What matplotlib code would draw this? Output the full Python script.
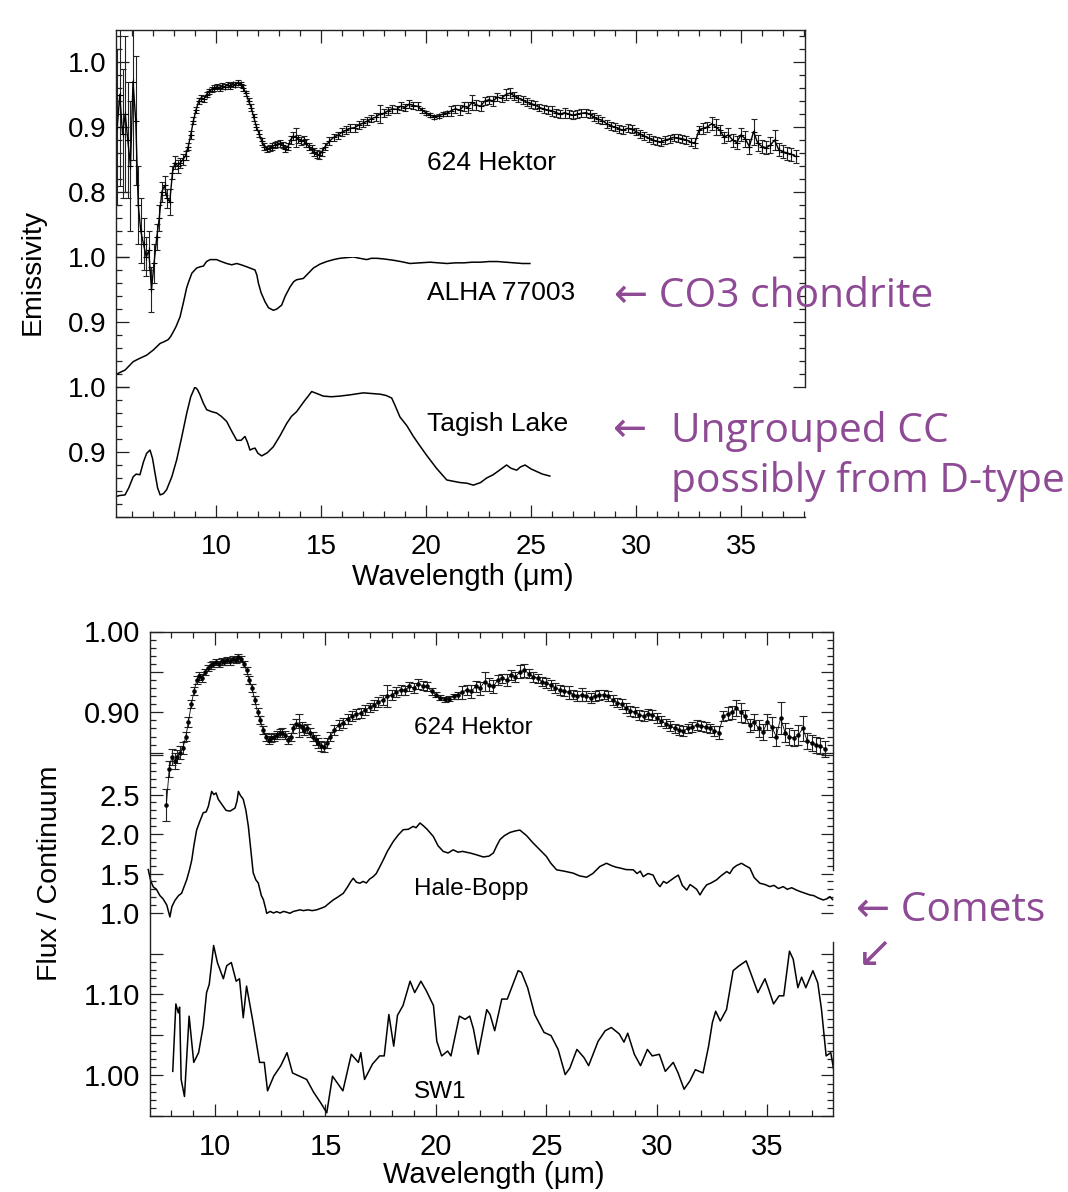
import matplotlib
matplotlib.use('Agg')
import matplotlib.pyplot as plt
import matplotlib.patches as mpatches
from matplotlib.ticker import FixedLocator, MultipleLocator, FuncFormatter
import numpy as np

plt.rcParams['font.family'] = ['Liberation Sans', 'DejaVu Sans']

# ---------------- data ----------------
hektor_wl = [5.30, 5.42, 5.55, 5.68, 5.80, 5.93, 6.05, 6.18, 6.30, 6.42, 6.55, 6.68, 6.80, 6.93,
             7.05, 7.18, 7.30, 7.42, 7.55, 7.68, 7.80, 7.93, 8.05, 8.18, 8.30, 8.43, 8.55, 8.68,
             8.80, 8.93, 9.05, 9.18, 9.30, 9.43, 9.55, 9.68, 9.80, 9.93, 10.05, 10.18, 10.30,
             10.43, 10.55, 10.68, 10.80, 10.93, 11.05, 11.18, 11.30, 11.43, 11.55, 11.68, 11.80,
             11.93, 12.05, 12.18, 12.30, 12.43, 12.55, 12.68, 12.80, 12.93, 13.05, 13.18, 13.30,
             13.43, 13.55, 13.68, 13.80, 13.93, 14.05, 14.18, 14.30, 14.43, 14.55, 14.68, 14.80,
             14.93, 15.05, 15.20, 15.40, 15.60, 15.80, 16.00, 16.20, 16.40, 16.60, 16.80, 17.00,
             17.20, 17.40, 17.60, 17.80, 18.00, 18.20, 18.40, 18.60, 18.80, 19.00, 19.20, 19.40,
             19.60, 19.80, 20.00, 20.20, 20.40, 20.60, 20.80, 21.00, 21.20, 21.40, 21.60, 21.80,
             22.00, 22.20, 22.40, 22.60, 22.80, 23.00, 23.20, 23.40, 23.60, 23.80, 24.00, 24.20,
             24.40, 24.60, 24.80, 25.00, 25.20, 25.40, 25.60, 25.80, 26.00, 26.20, 26.40, 26.60,
             26.80, 27.00, 27.20, 27.40, 27.60, 27.80, 28.00, 28.20, 28.40, 28.60, 28.80, 29.00,
             29.20, 29.40, 29.60, 29.80, 30.00, 30.20, 30.40, 30.60, 30.80, 31.00, 31.20, 31.40,
             31.60, 31.80, 32.00, 32.20, 32.40, 32.60, 32.80, 33.00, 33.20, 33.40, 33.60, 33.80,
             34.00, 34.20, 34.40, 34.60, 34.80, 35.00, 35.20, 35.40, 35.60, 35.80, 36.00, 36.20,
             36.40, 36.60, 36.80, 37.00, 37.20, 37.40, 37.60]
hektor_val = [0.90, 0.95, 0.89, 0.92, 0.88, 0.84, 0.97, 0.91, 0.78, 0.74, 0.72, 0.70, 0.71, 0.65,
              0.69, 0.73, 0.76, 0.80, 0.81, 0.79, 0.785, 0.83, 0.845, 0.84, 0.845, 0.85, 0.856, 0.87,
              0.888, 0.91, 0.926, 0.94, 0.945, 0.943, 0.950, 0.955, 0.958, 0.960, 0.962, 0.960, 0.963,
              0.962, 0.965, 0.963, 0.966, 0.965, 0.968, 0.966, 0.960, 0.952, 0.940, 0.930, 0.915,
              0.900, 0.890, 0.878, 0.870, 0.866, 0.868, 0.870, 0.872, 0.874, 0.875, 0.872, 0.866,
              0.870, 0.880, 0.886, 0.884, 0.882, 0.878, 0.880, 0.875, 0.870, 0.866, 0.862, 0.858,
              0.857, 0.862, 0.870, 0.878, 0.884, 0.887, 0.892, 0.895, 0.898, 0.899, 0.903, 0.906,
              0.909, 0.913, 0.915, 0.920, 0.921, 0.925, 0.928, 0.927, 0.932, 0.930, 0.935, 0.933,
              0.932, 0.926, 0.922, 0.918, 0.916, 0.917, 0.920, 0.921, 0.925, 0.928, 0.926, 0.932,
              0.930, 0.938, 0.934, 0.932, 0.940, 0.942, 0.940, 0.946, 0.944, 0.950, 0.952, 0.948,
              0.944, 0.942, 0.938, 0.936, 0.934, 0.930, 0.928, 0.926, 0.925, 0.922, 0.920, 0.922,
              0.920, 0.918, 0.920, 0.921, 0.922, 0.920, 0.915, 0.912, 0.910, 0.905, 0.902, 0.900,
              0.897, 0.895, 0.898, 0.897, 0.893, 0.889, 0.886, 0.883, 0.880, 0.878, 0.877, 0.880,
              0.882, 0.884, 0.883, 0.882, 0.880, 0.877, 0.875, 0.895, 0.898, 0.900, 0.905, 0.900,
              0.895, 0.884, 0.888, 0.880, 0.876, 0.888, 0.882, 0.870, 0.893, 0.875, 0.870, 0.868,
              0.872, 0.880, 0.865, 0.862, 0.860, 0.858, 0.855]
hektor_err = [0.12, 0.14, 0.10, 0.12, 0.09, 0.10, 0.12, 0.10, 0.06, 0.05, 0.04, 0.03, 0.03, 0.035,
              0.03, 0.02, 0.02, 0.015, 0.015, 0.015, 0.02, 0.01, 0.01, 0.01, 0.008, 0.008, 0.007, 0.006,
              0.006, 0.005, 0.005, 0.005, 0.005, 0.005, 0.004, 0.004, 0.004, 0.004, 0.004, 0.004, 0.004,
              0.004, 0.004, 0.004, 0.004, 0.004, 0.004, 0.004, 0.004, 0.004, 0.005, 0.005, 0.005,
              0.005, 0.005, 0.005, 0.005, 0.005, 0.005, 0.005, 0.005, 0.005, 0.005, 0.005, 0.005,
              0.005, 0.006, 0.006, 0.014, 0.006, 0.006, 0.006, 0.006, 0.006, 0.006, 0.006, 0.006,
              0.006, 0.006, 0.006, 0.006, 0.006, 0.006, 0.006, 0.006, 0.006, 0.006, 0.006, 0.006,
              0.006, 0.006, 0.006, 0.014, 0.006, 0.006, 0.006, 0.006, 0.006, 0.006, 0.006, 0.006,
              0.006, 0.004, 0.003, 0.003, 0.003, 0.003, 0.003, 0.004, 0.008, 0.006, 0.008, 0.007,
              0.008, 0.012, 0.008, 0.008, 0.006, 0.006, 0.007, 0.006, 0.006, 0.008, 0.008, 0.006,
              0.006, 0.006, 0.006, 0.006, 0.006, 0.006, 0.006, 0.006, 0.008, 0.006, 0.006, 0.008,
              0.006, 0.006, 0.006, 0.006, 0.006, 0.006, 0.006, 0.006, 0.006, 0.006, 0.006, 0.006,
              0.006, 0.006, 0.006, 0.006, 0.006, 0.006, 0.006, 0.006, 0.006, 0.006, 0.006, 0.006,
              0.006, 0.006, 0.006, 0.006, 0.006, 0.006, 0.008, 0.006, 0.008, 0.008, 0.010, 0.012,
              0.008, 0.008, 0.010, 0.010, 0.010, 0.010, 0.012, 0.012, 0.020, 0.012, 0.010, 0.010,
              0.012, 0.015, 0.010, 0.010, 0.010, 0.010, 0.010]

alha_wl = [5.19, 5.40, 5.67, 5.85, 6.06, 6.30, 6.50, 6.70, 7.02, 7.34, 7.55, 7.73, 7.85, 7.97,
           8.10, 8.29, 8.45, 8.60, 8.68, 8.85, 9.08, 9.25, 9.40, 9.55, 9.72, 10.03, 10.25, 10.51,
           10.75, 10.99, 11.20, 11.46, 11.70, 11.86, 11.95, 12.02, 12.15, 12.34, 12.50, 12.73,
           12.90, 13.13, 13.30, 13.53, 13.70, 13.84, 14.16, 14.40, 14.64, 14.95, 15.27, 15.60,
           15.90, 16.20, 16.54, 16.85, 17.18, 17.40, 17.65, 18.00, 18.45, 18.80, 19.24, 19.70,
           20.20, 20.60, 21.00, 21.40, 21.80, 22.20, 22.60, 23.00, 23.40, 23.80, 24.20, 24.60,
           24.95]
alha_val = [0.818, 0.822, 0.826, 0.832, 0.839, 0.843, 0.846, 0.849, 0.857, 0.867, 0.870, 0.873,
            0.878, 0.885, 0.893, 0.908, 0.930, 0.952, 0.960, 0.975, 0.983, 0.985, 0.986, 0.993,
            0.996, 0.996, 0.993, 0.990, 0.988, 0.990, 0.988, 0.985, 0.982, 0.980, 0.972, 0.960,
            0.945, 0.931, 0.922, 0.918, 0.920, 0.926, 0.940, 0.954, 0.962, 0.965, 0.967, 0.975,
            0.983, 0.989, 0.993, 0.996, 0.998, 0.999, 1.000, 0.998, 0.996, 0.998, 0.998, 0.997,
            0.995, 0.993, 0.990, 0.991, 0.992, 0.991, 0.990, 0.991, 0.991, 0.992, 0.992, 0.993,
            0.993, 0.992, 0.991, 0.990, 0.990]

tagish_wl = [5.19, 5.40, 5.67, 5.85, 6.06, 6.20, 6.38, 6.55, 6.70, 6.86, 6.98, 7.10, 7.22, 7.34,
             7.50, 7.65, 7.90, 8.13, 8.35, 8.61, 8.80, 9.00, 9.12, 9.24, 9.40, 9.56, 9.80, 10.03,
             10.25, 10.51, 10.75, 10.99, 11.20, 11.38, 11.50, 11.62, 11.75, 11.86, 12.00, 12.18,
             12.45, 12.73, 13.05, 13.37, 13.60, 13.84, 14.20, 14.56, 14.80, 15.11, 15.50, 15.90,
             16.40, 17.02, 17.40, 17.81, 18.10, 18.37, 18.55, 18.76, 19.10, 19.40, 19.70, 20.03,
             20.50, 20.99, 21.30, 21.62, 21.95, 22.26, 22.60, 22.89, 23.20, 23.50, 23.84, 24.05,
             24.32, 24.50, 24.72, 25.00, 25.27, 25.55, 25.90]
tagish_val = [0.831, 0.833, 0.834, 0.845, 0.862, 0.866, 0.865, 0.885, 0.898, 0.903, 0.890, 0.867,
              0.845, 0.834, 0.836, 0.842, 0.862, 0.888, 0.920, 0.960, 0.985, 1.000, 0.996, 0.988,
              0.975, 0.965, 0.962, 0.960, 0.955, 0.947, 0.932, 0.918, 0.918, 0.924, 0.915, 0.903,
              0.905, 0.906, 0.898, 0.894, 0.899, 0.908, 0.925, 0.944, 0.955, 0.962, 0.978, 0.993,
              0.990, 0.986, 0.985, 0.986, 0.988, 0.991, 0.990, 0.989, 0.987, 0.983, 0.970, 0.954,
              0.940, 0.924, 0.910, 0.895, 0.875, 0.857, 0.855, 0.853, 0.852, 0.849, 0.853, 0.860,
              0.865, 0.872, 0.880, 0.875, 0.872, 0.877, 0.880, 0.874, 0.870, 0.866, 0.863]

halebopp_wl = [6.98, 7.10, 7.21, 7.35, 7.51, 7.65, 7.82, 7.96, 8.05, 8.19, 8.35, 8.49, 8.60, 8.72,
               8.85, 8.95, 9.05, 9.17, 9.30, 9.47, 9.60, 9.70, 9.78, 9.85, 9.95, 10.05, 10.15,
               10.25, 10.38, 10.50, 10.68, 10.80, 10.91, 11.00, 11.06, 11.15, 11.28, 11.40, 11.51,
               11.62, 11.73, 11.85, 11.96, 12.10, 12.19, 12.30, 12.34, 12.50, 12.65, 12.79, 12.95,
               13.10, 13.25, 13.39, 13.55, 13.70, 13.85, 14.00, 14.20, 14.40, 14.60, 14.80, 14.98,
               15.15, 15.35, 15.55, 15.81, 16.00, 16.15, 16.26, 16.40, 16.56, 16.70, 16.85, 17.00,
               17.16, 17.30, 17.45, 17.62, 17.80, 18.07, 18.30, 18.52, 18.75, 18.97, 19.10, 19.28,
               19.45, 19.60, 19.88, 20.10, 20.33, 20.55, 20.78, 21.00, 21.20, 21.54, 21.80, 22.14,
               22.40, 22.60, 22.75, 22.90, 23.10, 23.35, 23.60, 23.80, 24.10, 24.40, 24.70, 25.00,
               25.20, 25.46, 25.80, 26.21, 26.50, 26.82, 27.10, 27.42, 27.72, 27.95, 28.15, 28.33,
               28.60, 28.93, 29.10, 29.25, 29.38, 29.60, 29.83, 30.00, 30.14, 30.30, 30.44, 30.65,
               30.80, 30.97, 31.15, 31.35, 31.50, 31.64, 31.80, 31.95, 32.10, 32.25, 32.45, 32.70,
               32.90, 33.16, 33.30, 33.45, 33.60, 33.83, 34.00, 34.21, 34.40, 34.66, 34.90, 35.11,
               35.30, 35.50, 35.72, 35.90, 36.10, 36.32, 36.50, 36.70, 36.92, 37.10, 37.30, 37.53,
               37.70, 37.83, 37.95]
halebopp_val = [1.55, 1.40, 1.33, 1.30, 1.22, 1.18, 1.10, 0.95, 1.08, 1.16, 1.22, 1.25, 1.33, 1.42,
                1.55, 1.67, 1.86, 2.05, 2.15, 2.27, 2.28, 2.35, 2.45, 2.54, 2.50, 2.52, 2.44, 2.40,
                2.35, 2.30, 2.29, 2.31, 2.33, 2.42, 2.54, 2.49, 2.44, 2.30, 2.10, 1.80, 1.51, 1.42,
                1.38, 1.22, 1.17, 1.05, 0.996, 1.02, 1.00, 1.017, 1.00, 1.02, 1.01, 0.996, 1.02,
                1.03, 1.04, 1.03, 1.04, 1.03, 1.04, 1.06, 1.08, 1.12, 1.165, 1.20, 1.25, 1.33, 1.40,
                1.44, 1.39, 1.377, 1.40, 1.38, 1.43, 1.46, 1.50, 1.58, 1.674, 1.78, 1.906, 1.99,
                2.055, 2.06, 2.097, 2.08, 2.14, 2.10, 2.06, 1.97, 1.85, 1.78, 1.76, 1.80, 1.77, 1.78,
                1.76, 1.74, 1.71, 1.72, 1.76, 1.85, 1.93, 1.98, 2.02, 2.04, 2.05, 1.98, 1.886, 1.80,
                1.716, 1.63, 1.547, 1.53, 1.505, 1.47, 1.453, 1.50, 1.589, 1.63, 1.60, 1.58, 1.57,
                1.55, 1.547, 1.50, 1.53, 1.46, 1.50, 1.48, 1.38, 1.334, 1.40, 1.377, 1.42, 1.45, 1.48,
                1.35, 1.29, 1.36, 1.334, 1.30, 1.229, 1.30, 1.356, 1.38, 1.42, 1.47, 1.525, 1.50,
                1.568, 1.60, 1.63, 1.60, 1.568, 1.45, 1.377, 1.36, 1.334, 1.35, 1.31, 1.334, 1.30,
                1.32, 1.29, 1.27, 1.25, 1.229, 1.22, 1.19, 1.165, 1.18, 1.207, 1.17]

sw1_wl = [8.09, 8.23, 8.34, 8.40, 8.47, 8.62, 8.83, 9.04, 9.26, 9.47, 9.62, 9.74, 9.94, 10.11,
          10.38, 10.53, 10.74, 10.96, 11.11, 11.28, 11.43, 11.70, 12.02, 12.23, 12.38, 12.66,
          12.98, 13.26, 13.51, 13.83, 14.15, 14.47, 14.79, 15.06, 15.32, 15.79, 16.17, 16.49,
          16.60, 16.77, 17.13, 17.45, 17.66, 17.87, 18.09, 18.26, 18.51, 18.83, 19.04, 19.32,
          19.57, 19.89, 20.04, 20.26, 20.53, 20.68, 21.06, 21.32, 21.53, 21.70, 21.91, 22.30,
          22.45, 22.66, 22.98, 23.23, 23.72, 23.87, 24.15, 24.47, 24.89, 25.21, 25.53, 25.85,
          26.06, 26.38, 26.70, 26.91, 27.34, 27.66, 27.94, 28.30, 28.51, 28.68, 28.98, 29.26,
          29.57, 29.79, 30.11, 30.38, 30.74, 30.96, 31.23, 31.49, 31.74, 32.09, 32.34, 32.51,
          32.66, 32.87, 33.15, 33.45, 33.72, 34.04, 34.26, 34.57, 34.89, 35.06, 35.28, 35.53,
          35.74, 36.00, 36.17, 36.38, 36.55, 36.74, 37.06, 37.28, 37.45, 37.66, 37.87, 38.00]
sw1_val = [1.005, 1.088, 1.077, 1.084, 0.995, 0.974, 1.073, 1.016, 1.028, 1.061, 1.102, 1.112,
           1.160, 1.139, 1.119, 1.135, 1.139, 1.116, 1.119, 1.071, 1.110, 1.069, 1.016, 1.016,
           0.981, 0.999, 1.012, 1.028, 1.003, 0.999, 0.995, 0.979, 0.966, 0.954, 0.999, 0.981,
           1.026, 1.016, 1.028, 0.995, 1.014, 1.024, 1.024, 1.075, 1.036, 1.074, 1.086, 1.116,
           1.102, 1.116, 1.104, 1.086, 1.042, 1.024, 1.030, 1.024, 1.073, 1.069, 1.073, 1.057,
           1.026, 1.081, 1.075, 1.055, 1.094, 1.094, 1.129, 1.127, 1.108, 1.075, 1.053, 1.049,
           1.032, 1.001, 1.009, 1.032, 1.022, 1.012, 1.042, 1.055, 1.059, 1.051, 1.041, 1.052,
           1.026, 1.012, 1.032, 1.024, 1.026, 1.005, 1.016, 1.003, 0.983, 0.993, 1.007, 1.003,
           1.036, 1.065, 1.079, 1.067, 1.081, 1.129, 1.135, 1.141, 1.125, 1.102, 1.119, 1.106,
           1.088, 1.098, 1.098, 1.153, 1.143, 1.108, 1.121, 1.108, 1.129, 1.114, 1.081, 1.024,
           1.028, 1.007]

labels_top = ["624 Hektor", "ALHA 77003", "Tagish Lake"]
labels_bot = ["624 Hektor", "Hale-Bopp", "SW1"]
purple = '#8E4A94'

# ---------------- figure ----------------
W, H = 1068, 1192
fig = plt.figure(figsize=(W / 100, H / 100), dpi=100)


def add_ax(l, r, t, b):
    ax = fig.add_axes([l / W, 1 - b / H, (r - l) / W, (b - t) / H])
    ax.set_facecolor('none')
    for s in ax.spines.values():
        s.set_linewidth(1.0)
        s.set_color('#222222')
    return ax


def style(ax, ymaj, ylabs, ymin, xlim, ylim, top=False, bottom=False, right=True, fs=20):
    ax.set_xlim(*xlim)
    ax.set_ylim(*ylim)
    ax.yaxis.set_major_locator(FixedLocator(ymaj))
    ax.yaxis.set_minor_locator(FixedLocator(ymin))
    ax.yaxis.set_major_formatter(FuncFormatter(
        lambda v, p: next((s for (tv, s) in ylabs if abs(tv - v) < 1e-6), '')))
    ax.xaxis.set_major_locator(MultipleLocator(5))
    ax.xaxis.set_minor_locator(MultipleLocator(1))
    ax.tick_params(axis='y', which='both', direction='in', left=True, right=right,
                   labelleft=True, labelright=False, width=0.9, color='#222222',
                   labelsize=fs, pad=7)
    ax.tick_params(axis='y', which='major', length=9)
    ax.tick_params(axis='y', which='minor', length=4.5)
    ax.tick_params(axis='x', which='both', direction='in', top=top, bottom=bottom,
                   labelbottom=bottom, labeltop=False, width=0.9, color='#222222',
                   labelsize=fs, pad=12)
    ax.tick_params(axis='x', which='major', length=9)
    ax.tick_params(axis='x', which='minor', length=4.5)


# ---- top group ----
xl_top = (5.24, 38.05)
ax1 = add_ax(116, 805, 29.5, 257)
ax2 = add_ax(116, 805, 257, 387)
ax3 = add_ax(116, 805, 387, 517)

style(ax1, [0.7, 0.8, 0.9, 1.0], [(0.8, '0.8'), (0.9, '0.9'), (1.0, '1.0')],
      np.arange(0.70, 1.051, 0.02), xl_top, (0.7, 1.05), top=True)
style(ax2, [0.8, 0.9, 1.0], [(0.9, '0.9'), (1.0, '1.0')],
      np.arange(0.80, 1.001, 0.02), xl_top, (0.8, 1.0))
style(ax3, [0.8, 0.9, 1.0], [(0.9, '0.9'), (1.0, '1.0')],
      np.arange(0.80, 1.001, 0.02), xl_top, (0.8, 1.0), bottom=True, right=False)
ax1.spines['bottom'].set_visible(False)
ax2.spines['top'].set_visible(False)
ax2.spines['bottom'].set_visible(False)
ax3.spines['top'].set_visible(False)
ax3.spines['right'].set_visible(False)

eb = ax1.errorbar(hektor_wl, hektor_val, yerr=hektor_err, fmt='-', color='k', lw=1.0,
                  elinewidth=0.8, capsize=2.4, capthick=0.8, marker='+', ms=4.5, mew=0.8,
                  ecolor='#222222')
clip = mpatches.Rectangle((xl_top[0], 0.5), xl_top[1] - xl_top[0], 0.55, transform=ax1.transData)
for art in eb.get_children():
    art.set_clip_path(clip)

ax2.plot(alha_wl, alha_val, color='k', lw=1.1)
ax3.plot(tagish_wl, tagish_val, color='k', lw=1.1)

ax1.text(20.05, 0.845, labels_top[0], fontsize=19, va='center', ha='left')
ax2.text(20.05, 0.945, labels_top[1], fontsize=19, va='center', ha='left')
ax3.text(20.05, 0.943, labels_top[2], fontsize=19, va='center', ha='left')

fig.text(33 / W, 1 - 272 / H, 'Emissivity', rotation=90, fontsize=20.5, ha='center', va='center')
fig.text(463 / W, 1 - 577 / H, 'Wavelength (μm)', fontsize=21, ha='center', va='center')

# ---- bottom group ----
xl_bot = (7.06, 37.97)
bx1 = add_ax(150, 833, 631.5, 752.7)
bx2 = add_ax(150, 833, 752.7, 913)
bx3 = add_ax(150, 833, 913, 1116)

style(bx1, [0.85, 0.90, 0.95, 1.00], [(0.90, '0.90'), (1.00, '1.00')],
      np.arange(0.85, 1.0001, 0.01), xl_bot, (0.85, 1.0), top=True, fs=21)
style(bx2, [1.0, 1.5, 2.0, 2.5, 3.0], [(1.0, '1.0'), (1.5, '1.5'), (2.0, '2.0'), (2.5, '2.5')],
      np.arange(1.0, 3.001, 0.1), xl_bot, (1.0, 3.03), fs=21)
style(bx3, [0.95, 1.00, 1.05, 1.10, 1.15], [(1.00, '1.00'), (1.10, '1.10')],
      np.arange(0.95, 1.1501, 0.01), xl_bot, (0.95, 1.20), bottom=True, fs=21)
bx1.spines['bottom'].set_visible(False)
bx2.spines['top'].set_visible(False)
bx2.spines['bottom'].set_visible(False)
bx3.spines['top'].set_visible(False)
bx2.spines['right'].set_bounds(1.55, 3.03)
bx3.spines['right'].set_bounds(0.95, 1.164)

hw = np.array(hektor_wl)
sel = hw >= 7.75
eb2 = bx1.errorbar(hw[sel], np.array(hektor_val)[sel], yerr=np.array(hektor_err)[sel],
                   fmt='.-', color='k', lw=0.6, ms=4.5, elinewidth=0.8, capsize=2.6,
                   capthick=0.8, ecolor='#222222')
for art in eb2.get_children():
    art.set_clip_on(False)

bx2.plot(halebopp_wl, halebopp_val, color='k', lw=1.1, clip_on=False)
bx3.plot(sw1_wl, sw1_val, color='k', lw=1.1)

bx1.text(19.0, 0.881, labels_bot[0], fontsize=17.5, va='center', ha='left')
bx2.text(19.0, 1.305, labels_bot[1], fontsize=17.5, va='center', ha='left')
bx3.text(19.0, 0.980, labels_bot[2], fontsize=17.5, va='center', ha='left')

fig.text(50 / W, 1 - 873 / H, 'Flux / Continuum', rotation=90, fontsize=20.5,
         ha='center', va='center')
fig.text(494 / W, 1 - 1175 / H, 'Wavelength (μm)', fontsize=21, ha='center', va='center')

# ---- purple annotations ----
pfam = ['Open Sans', 'DejaVu Sans']
fs_p = 29.3
fig.text(614 / W, 1 - 297 / H, '← CO3 chondrite', color=purple, fontsize=fs_p,
         family=pfam, ha='left', va='center')
fig.text(613 / W, 1 - 431 / H, '←', color=purple, fontsize=fs_p,
         family=pfam, ha='left', va='center')
fig.text(671 / W, 1 - 431 / H, 'Ungrouped CC', color=purple, fontsize=fs_p,
         family=pfam, ha='left', va='center')
fig.text(671 / W, 1 - 482 / H, 'possibly from D-type', color=purple, fontsize=fs_p,
         family=pfam, ha='left', va='center')
fig.text(856 / W, 1 - 911 / H, '← Comets', color=purple, fontsize=fs_p,
         family=pfam, ha='left', va='center')
fig.text(857 / W, 1 - 955 / H, '↙', color=purple, fontsize=31,
         family=pfam, ha='left', va='center')

fig.savefig('out.png', dpi=100)
